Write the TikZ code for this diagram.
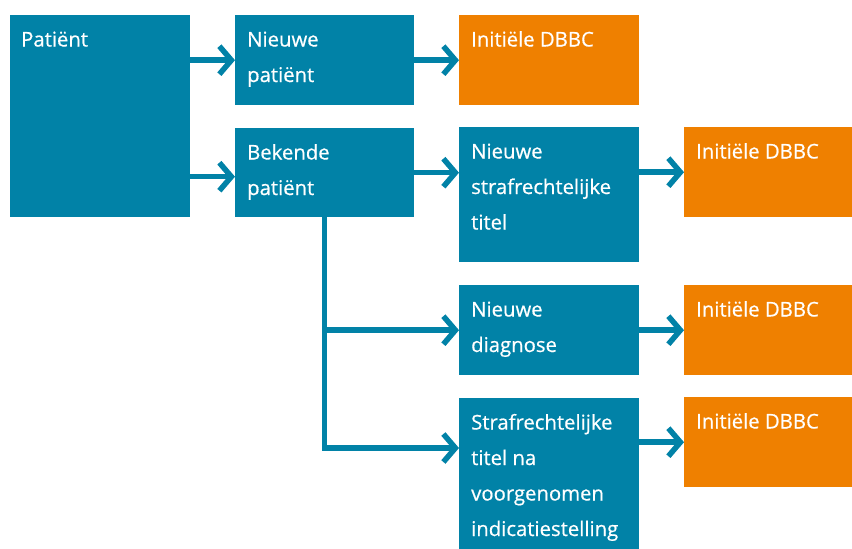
\documentclass[tikz,border=0pt]{standalone}
\usepackage{fontspec}
\setmainfont{Open Sans}[FakeBold=0.6]
\usetikzlibrary{arrows.meta,calc}
\definecolor{teal}{RGB}{1,130,167}
\definecolor{dbbc}{RGB}{239,128,0}
\begin{document}
\begin{tikzpicture}[x=1pt,y=-1pt,
  tbox/.style={fill=teal,draw=none,inner sep=0pt,anchor=north west},
  obox/.style={fill=dbbc,draw=none,inner sep=0pt,anchor=north west},
  lbl/.style={text=white,inner sep=0pt,anchor=base west,font=\fontsize{20.3}{35.5}\selectfont},
  conn/.style={draw=teal,line width=5.5pt},
  arr/.style={conn,-{Straight Barb[length=12pt,width=28pt]}}]
\useasboundingbox (0,0) rectangle (852,549);
% boxes
\node[tbox,minimum width=180pt,minimum height=202pt] (P)  at (10,15) {};
\node[tbox,minimum width=179pt,minimum height=90pt]  (NP) at (235,15) {};
\node[obox,minimum width=180pt,minimum height=90pt]  (I1) at (459,15) {};
\node[tbox,minimum width=179pt,minimum height=89pt]  (BP) at (235,128) {};
\node[tbox,minimum width=180pt,minimum height=135pt] (NS) at (459,127) {};
\node[obox,minimum width=170pt,minimum height=90pt]  (I2) at (684,127) {};
\node[tbox,minimum width=180pt,minimum height=90pt]  (ND) at (459,285) {};
\node[obox,minimum width=170pt,minimum height=90pt]  (I3) at (684,285) {};
\node[tbox,minimum width=180pt,minimum height=155pt] (ST) at (459,398) {};
\node[obox,minimum width=170pt,minimum height=90pt]  (I4) at (684,397) {};
% labels
\node[lbl] (tP)  at ($(P.north west)+(11,31.5)$)  {Patiënt};
\node[lbl] (tNP) at ($(NP.north west)+(12,31.5)$) {\parbox[t]{170pt}{Nieuwe\\patiënt}};
\node[lbl] (tI1) at ($(I1.north west)+(12,31.5)$) {Initiële DBBC};
\node[lbl] (tBP) at ($(BP.north west)+(12,31.5)$) {\parbox[t]{170pt}{Bekende\\patiënt}};
\node[lbl] (tNS) at ($(NS.north west)+(12,31.5)$) {\parbox[t]{175pt}{Nieuwe\\strafrechtelijke\\titel}};
\node[lbl] (tI2) at ($(I2.north west)+(12,31.5)$) {Initiële DBBC};
\node[lbl] (tND) at ($(ND.north west)+(12,31.5)$) {\parbox[t]{170pt}{Nieuwe\\diagnose}};
\node[lbl] (tI3) at ($(I3.north west)+(12,31.5)$) {Initiële DBBC};
\node[lbl] (tST) at ($(ST.north west)+(12,31.5)$) {\parbox[t]{175pt}{Strafrechtelijke\\titel na\\voorgenomen\\indicatiestelling}};
\node[lbl] (tI4) at ($(I4.north west)+(12,31.5)$) {Initiële DBBC};
% connectors
\coordinate (pb) at ($(BP.west)+(0,4)$);
\coordinate (stin) at ($(ST.north west)+(0,50)$);
\draw[arr] (P.east |- NP.west) -- (NP.west);
\draw[arr] (P.east |- pb) -- (pb);
\draw[arr] (NP.east) -- (I1.west);
\draw[arr] (BP.east) -- (BP.east -| NS.west);
\draw[arr] (NS.east |- I2.west) -- (I2.west);
\draw[arr] (BP.south |- ND.west) -- (ND.west);
\draw[arr] (BP.south) |- (stin);
\draw[arr] (ND.east) -- (ND.east -| I3.west);
\draw[arr] (ST.east |- I4.west) -- (I4.west);
\end{tikzpicture}
\end{document}
